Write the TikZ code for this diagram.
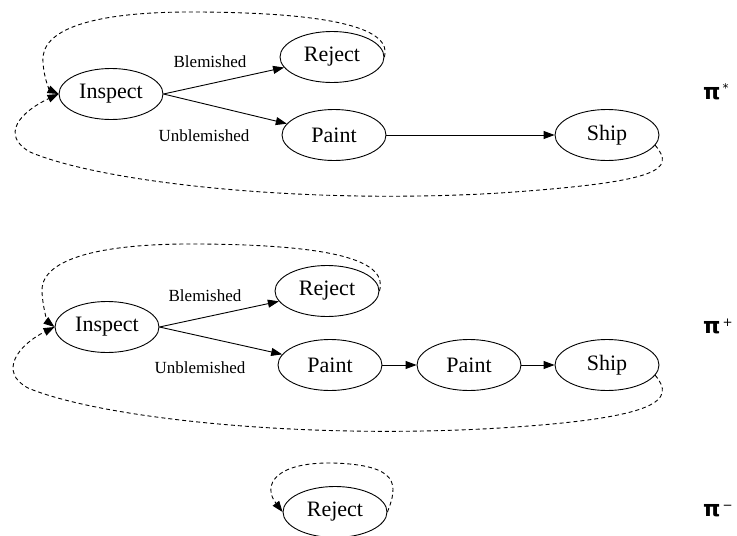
\documentclass[tikz,border=0pt]{standalone}
\usepackage{fontspec}
\setmainfont{Liberation Serif}
\newfontfamily\pifont{DejaVu Sans}
\usetikzlibrary{shapes.geometric,arrows.meta}
\begin{document}
\begin{tikzpicture}[x=1pt,y=-1pt,
  state/.style={ellipse, draw, line width=0.9pt, minimum width=104pt, minimum height=51pt, inner sep=0pt, font=\fontsize{22}{24}\selectfont},
  lbl/.style={font=\fontsize{17}{19}\selectfont, inner sep=0pt},
  arr/.style={-{Triangle[length=11pt,width=8pt]}, line width=0.9pt},
  loopd/.style={arr, dash pattern=on 4pt off 3pt},
  pilbl/.style={font=\pifont\bfseries\fontsize{22}{24}\selectfont, inner sep=0pt, anchor=west}]
\useasboundingbox (0,0) rectangle (737,536);
% ---------- pi* ----------
\node[state] (i1) at (111,94) {Inspect};
\node[state] (r1) at (332,57) {Reject};
\node[state] (p1) at (334,135) {Paint};
\node[state] (s1) at (607,135) {Ship};
\node[lbl] (b1) at (210,62) {Blemished};
\node[lbl] (u1) at (204,136) {Unblemished};
\draw[arr] (i1.east) -- (r1);
\draw[arr] (i1.east) -- (p1);
\draw[arr] (p1) -- (s1);
\draw[loopd] (r1.east) .. controls (392,30) and (340,13) .. (200,12) .. controls (90,11) and (40,30) .. (43,62) .. controls (44,80) and (50,90) .. (i1.west);
\draw[loopd] (s1.-12) .. controls (676,170) and (660,182) .. (500,193) .. controls (300,205) and (100,182) .. (30,152) .. controls (0,135) and (20,112) .. (i1.west);
\node[pilbl] (pa) at (703,92) {π\raisebox{7pt}{\mdseries\fontsize{12}{13}\selectfont\,*}};
% ---------- pi+ ----------
\node[state] (i2) at (107,327) {Inspect};
\node[state] (r2) at (327,291) {Reject};
\node[state] (p2) at (330,365) {Paint};
\node[state] (q2) at (469,365) {Paint};
\node[state] (s2) at (607,365) {Ship};
\node[lbl] (b2) at (205,296) {Blemished};
\node[lbl] (u2) at (200,368) {Unblemished};
\draw[arr] (i2.east) -- (r2);
\draw[arr] (i2.east) -- (p2);
\draw[arr] (p2) -- (q2);
\draw[arr] (q2) -- (s2);
\draw[loopd] (r2.east) .. controls (388,262) and (340,245) .. (200,244) .. controls (90,243) and (40,262) .. (42,292) .. controls (43,310) and (48,322) .. (i2.west);
\draw[loopd] (s2.-12) .. controls (676,400) and (660,418) .. (500,428) .. controls (300,440) and (100,418) .. (28,388) .. controls (-2,372) and (18,345) .. (i2.west);
\node[pilbl] (pb) at (703,326) {π\raisebox{7pt}{\mdseries\fontsize{12}{13}\selectfont\,+}};
% ---------- pi- ----------
\node[state] (r3) at (335,512) {Reject};
\draw[loopd] (r3.east) .. controls (398,485) and (400,465) .. (333,463) .. controls (275,462) and (262,485) .. (r3.west);
\node[pilbl] (pc) at (703,511) {π\raisebox{7pt}{\mdseries\fontsize{12}{13}\selectfont\,−}};
\end{tikzpicture}
\end{document}
